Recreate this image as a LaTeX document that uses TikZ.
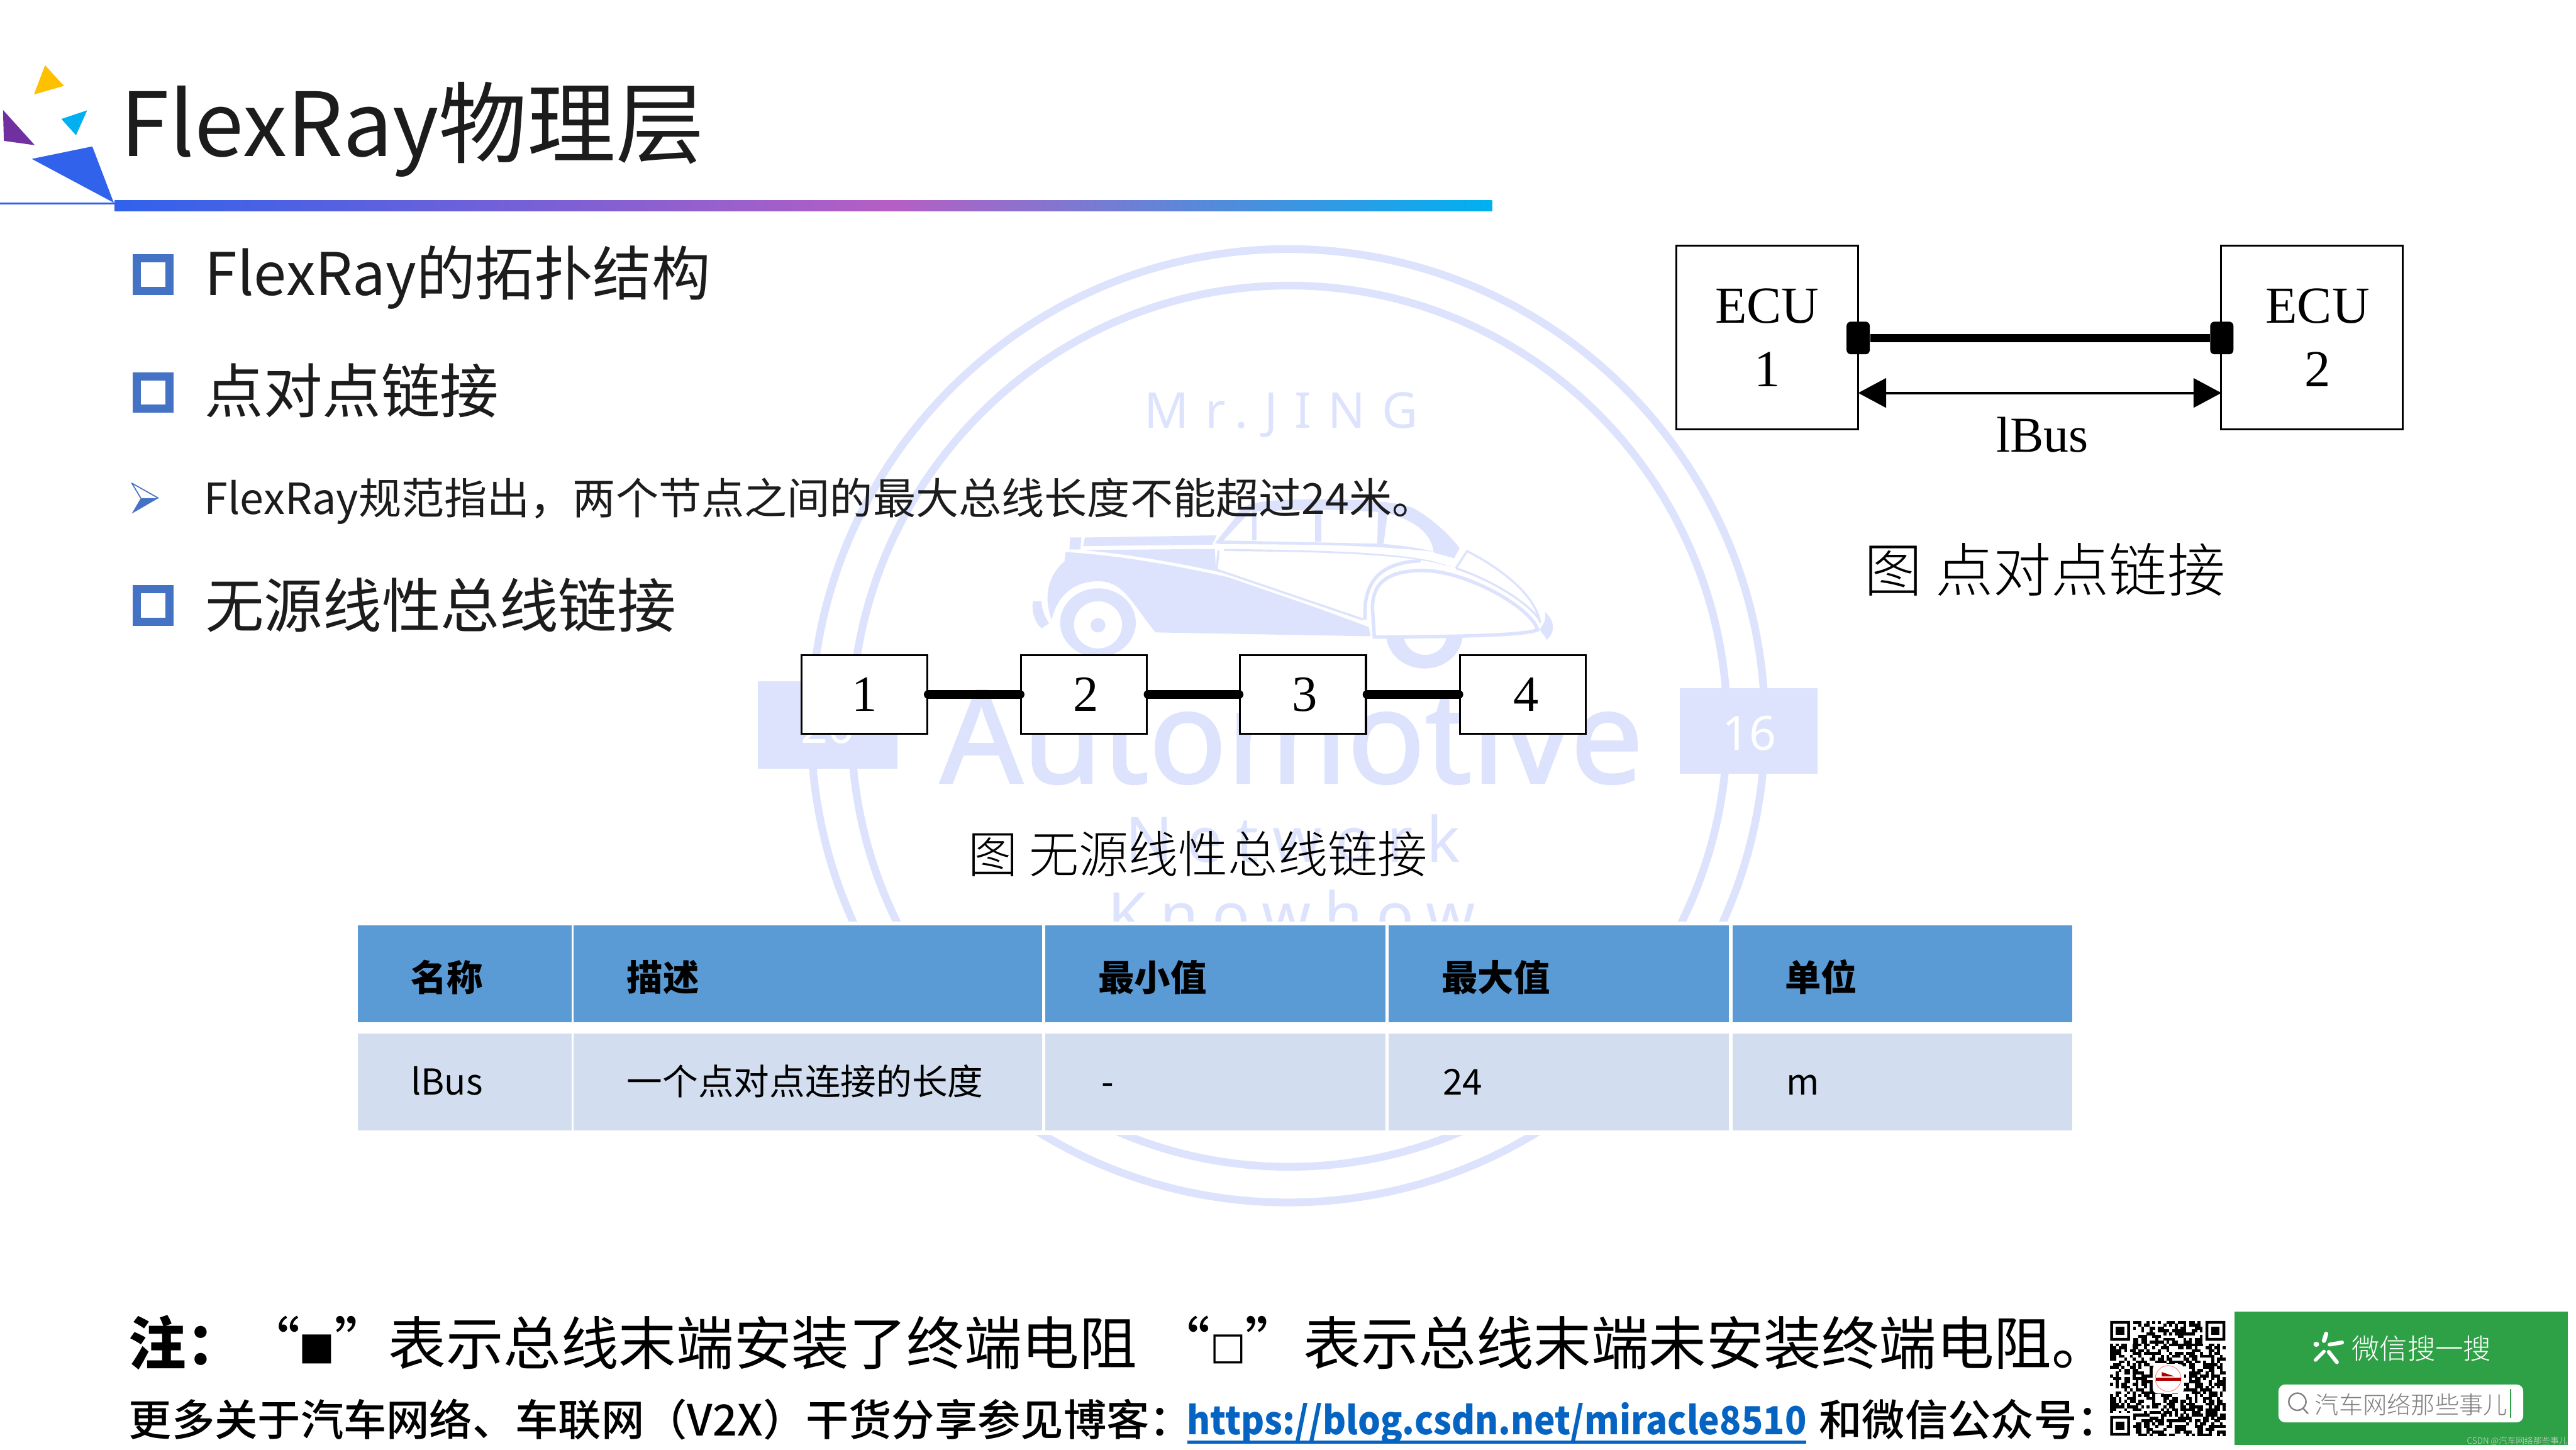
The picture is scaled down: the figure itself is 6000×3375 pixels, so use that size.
\documentclass[tikz,border=0pt]{standalone}
\usepackage{fontspec}
\usetikzlibrary{arrows.meta,calc}
\setmainfont{Noto Sans CJK SC}
\newfontfamily\cjk{Noto Sans CJK SC}
\newfontfamily\cjklight{Noto Sans CJK SC Light}
\newfontfamily\cjkmed{Noto Sans CJK SC Medium}
\newfontfamily\latinwm{Noto Sans}
\newfontfamily\latinwmb[FakeBold=1.6]{Noto Sans}
\newfontfamily\tms{Liberation Serif}
\newcommand\fs[1]{\fontsize{\fpeval{#1*0.28453}pt}{\fpeval{#1*1.2*0.28453}pt}\selectfont}
\definecolor{wm}{HTML}{DDE3FD}
\definecolor{ink}{HTML}{1C1C1C}
\definecolor{bulletblue}{HTML}{4472C4}
\definecolor{headcol}{HTML}{5B9BD5}
\definecolor{rowcol}{HTML}{D2DEEF}
\definecolor{linkcol}{HTML}{0563C1}
\definecolor{wxgreen}{HTML}{2EA146}
\definecolor{barblue}{HTML}{3062EC}
\definecolor{barpink}{HTML}{B55FC3}
\definecolor{barcyan}{HTML}{00B0F0}
\tikzset{
 txt/.style={inner sep=0pt,outer sep=0pt,anchor=base west},
 ctr/.style={inner sep=0pt,outer sep=0pt,anchor=center},
 heading/.style={txt,text=ink,font=\cjk\fs{137}},
 th/.style={txt,text=black,font=\cjk\bfseries\fs{84}},
 td/.style={txt,text=black,font=\cjk\fs{83}},
 caption/.style={ctr,text=black,font=\cjklight\fs{#1}},
 note/.style={txt,text=black,font=\cjk\fs{134}},
 more/.style={txt,text=black,font=\cjkmed\fs{100}},
 square/.style={draw=bulletblue,line width=1.9mm,fill=none},
 linkbox/.style={draw=black,fill=white,line width=.45mm,minimum width=29.3mm,minimum height=18.4mm,inner sep=0pt,font=\tms\fs{118}},
 ecubox/.style={draw=black,fill=white,line width=.5mm,minimum width=42.3mm,minimum height=42.7mm,inner sep=0pt,align=center,font=\tms\fs{121}},
 term/.style={fill=black,rounded corners=1mm,minimum width=5.4mm,minimum height=7.6mm,inner sep=0pt},
 wmtext/.style={txt,text=wm},
 bus/.style={line width=2mm,line cap=round},
}
\begin{document}
\begin{tikzpicture}[x=0.01cm,y=-0.01cm]
\useasboundingbox (0,0) rectangle (6000,3375);
\fill[white] (0,0) rectangle (6000,3375);

% ---- watermark
\draw[wm,line width=1.8mm] (3000,1690) ellipse [x radius=1111,y radius=1110];
\draw[wm,line width=1.8mm] (3003,1691) ellipse [x radius=1020,y radius=1026];
\fill[wm] (1765,1587) rectangle (2091,1790);
\fill[wm] (3912,1603) rectangle (4234,1802);
\node[txt,text=white,font=\latinwm\fs{110}] (w20) at (1865,1730) {20};
\node[txt,text=white,font=\latinwm\fs{110}] (w16) at (4012,1747) {16};
\node[wmtext,font=\latinwm\fs{115}\addfontfeature{LetterSpace=33.5}] (wmr) at (2665,997) {Mr.JING};
\node[wmtext,font=\latinwmb\fs{300}] (wauto) at (2190,1823) {Automotive};
\node[wmtext,font=\latinwm\fs{146}\addfontfeature{LetterSpace=22}] (wnet) at (2621,2007) {Network};
\node[wmtext,font=\latinwm\fs{146}\addfontfeature{LetterSpace=21}] (wknow) at (2581,2183) {Knowhow};

% ---- car
\begin{scope}[shift={(2350,1150)},xscale=.864,yscale=.3333]
 % rear wheel
 \fill[wm,even odd rule] (240,900) ellipse [x radius=102,y radius=240]
   (240,915) ellipse [x radius=65,y radius=165];
 \fill[wm] (240,918) ellipse [x radius=20,y radius=50];
 % front wheel
 \begin{scope}
  \clip (1000,1005) rectangle (1250,1300);
  \fill[wm,even odd rule] (1120,980) ellipse [x radius=103,y radius=240]
    (1122,980) ellipse [x radius=58,y radius=145];
 \end{scope}
 % rear bumper
 \fill[wm] (65,750) -- (88,750) .. controls (88,800) and (95,850) .. (108,905) -- (88,940) .. controls (70,900) and (60,820) .. (65,750) -- cycle;
 % trunk
 \fill[wm] (165,305) -- (195,305) -- (193,388) -- (163,390) -- cycle;
 \fill[wm] (205,305) -- (560,290) -- (548,355) -- (200,365) -- cycle;
 % body
 \fill[wm] (152,408) -- (150,470) .. controls (110,560) and (90,700) .. (115,880)
   .. controls (130,720) and (170,612) .. (240,610)
   .. controls (310,612) and (330,760) .. (395,968)
   -- (975,995) -- (970,930) -- (558,535) -- (555,385) -- (215,392) -- cycle;
 \draw[white,line width=.7mm] (165,398) .. controls (300,420) and (450,490) .. (590,570) -- (965,905);
 % roof and pillars
 \fill[wm] (612,160) .. controls (625,80) and (650,42) .. (800,38)
   .. controls (950,35) and (1050,55) .. (1090,100)
   .. controls (1140,170) and (1190,290) .. (1215,380)
   -- (1200,450) -- (1145,410)
   .. controls (1140,300) and (1110,210) .. (1040,150)
   .. controls (1000,105) and (800,105) .. (650,125)
   -- (580,320) -- (565,345) -- (555,345) -- cycle;
 \fill[wm] (655,120) rectangle (668,325);
 \fill[wm] (825,110) rectangle (842,335);
 \fill[wm] (995,110) -- (1022,110) -- (1010,350) -- (993,350) -- cycle;
 % sill bands
 \fill[wm] (562,325) -- (1000,348) .. controls (1060,360) and (1110,380) .. (1145,405)
   .. controls (1100,390) and (1000,365) .. (800,355) -- (562,350) -- cycle;
 \fill[wm] (580,385) .. controls (800,392) and (1100,400) .. (1190,510)
   .. controls (1100,430) and (900,405) .. (580,400) -- cycle;
 % door edge
 \draw[wm,line width=.5mm] (565,395) -- (560,530) -- (955,878);
 % fender outlines
 \draw[wm,line width=.8mm] (960,878) .. controls (955,640) and (990,480) .. (1110,468);
 \draw[wm,line width=.8mm] (985,1000) -- (980,800) .. controls (980,620) and (1020,535) .. (1120,535)
   .. controls (1240,545) and (1410,800) .. (1425,950)
   .. controls (1390,990) and (1200,998) .. (985,1000) -- cycle;
 \draw[wm,line width=.5mm] (1205,520) .. controls (1300,600) and (1400,760) .. (1430,880);
 \draw[wm,line width=.5mm] (1205,520) -- (1235,400) .. controls (1340,540) and (1420,720) .. (1432,900);
 % front bumper
 \fill[wm] (1445,825) .. controls (1470,880) and (1475,960) .. (1450,1020)
   .. controls (1445,990) and (1430,960) .. (1432,940) .. controls (1445,905) and (1448,860) .. (1445,825) -- cycle;
\end{scope}

% ---- title band
\fill[fill={rgb,255:red,255;green,192;blue,0}] (105,152) -- (149,200) -- (79,220) -- cycle;
\fill[fill=barcyan] (203,257) -- (143,277) -- (177,315) -- cycle;
\fill[fill={rgb,255:red,112;green,48;blue,160}] (7,256) -- (9,328) -- (81,338) -- cycle;
\fill[fill=barblue] (215,341) -- (74,370) -- (265,472) -- cycle;
\fill[barblue] (0,471) rectangle (267,476);
\shade[left color=barblue,right color=barpink] (267,466) rectangle (2080,492);
\shade[left color=barpink,right color=barcyan] (2079,466) rectangle (3475,492);
\node[txt,text=ink,font=\cjk\fs{206}] (title) at (281,364) {FlexRay物理层};

% ---- bullets and headings
\draw[square] (319,601) rectangle (395,677);
\node[heading] (h1) at (477,687) {FlexRay的拓扑结构};
\draw[square] (319,876) rectangle (395,951);
\node[heading] (h2) at (477,962) {点对点链接};
\draw[square] (319,1372) rectangle (395,1448);
\node[heading] (h3) at (478,1461) {无源线性总线链接};
\fill[bulletblue] (307,1196) -- (328,1160) -- (369,1160) -- cycle;
\draw[bulletblue,line width=.25mm,line join=round] (369,1160) -- (307,1125) -- (328,1160);
\node[txt,text=ink,font=\cjk\fs{99.8}] (sub) at (476,1198) {FlexRay规范指出，两个节点之间的最大总线长度不能超过24米。};

% ---- ECU link
\node[ecubox] (e1) at (4116,786) {ECU\\[.5pt]1};
\node[ecubox] (e2) at (5385,786) {\hspace*{2.6mm}ECU\\[.5pt]\hspace*{2.6mm}2};
\node[term] (t1) at (4328,787) {};
\node[term] (t2) at (5175,787) {};
\draw[line width=1.9mm] (t1) -- (t2);
\coordinate (a1) at (4328,915);
\coordinate (a2) at (5174,915);
\draw[{Triangle[length=6.5mm,width=6.8mm]}-{Triangle[length=6.5mm,width=6.8mm]},line width=.6mm] (a1) -- (a2);
\node[ctr,font=\tms\fs{117},anchor=base] (lbus) at (4757,1052) {lBus};
\node[caption=135] (cap1) at (4763,1326) {图 点对点链接};

% ---- bus nodes
\node[linkbox] (n1) at (2013,1617) {1};
\node[linkbox] (n2) at (2525,1617) {\hspace*{.8mm}2};
\node[linkbox] (n3) at (3035,1617) {\hspace*{.8mm}3};
\node[linkbox] (n4) at (3547,1617) {\hspace*{1.4mm}4};
\draw[bus] (n1) -- (n2);
\draw[bus] (n2) -- (n3);
\draw[bus] (n3) -- (n4);
\node[caption=116] (cap2) at (2790,1988) {图 无源线性总线链接};

% ---- table
\fill[white] (700,2146) rectangle (4950,2643);
\fill[headcol] (834,2155) rectangle (1331,2381);
\fill[headcol] (1336,2155) rectangle (2427,2381);
\fill[headcol] (2434,2155) rectangle (3227,2381);
\fill[headcol] (3234,2155) rectangle (4027,2381);
\fill[headcol] (4035,2155) rectangle (4827,2381);
\fill[rowcol] (834,2407) rectangle (1331,2633);
\fill[rowcol] (1336,2407) rectangle (2427,2633);
\fill[rowcol] (2434,2407) rectangle (3227,2633);
\fill[rowcol] (3234,2407) rectangle (4027,2633);
\fill[rowcol] (4035,2407) rectangle (4827,2633);
\node[th] (c1) at (957,2308) {名称};
\node[th] (c2) at (1460,2308) {描述};
\node[th] (c3) at (2558,2308) {最小值};
\node[th] (c4) at (3358,2308) {最大值};
\node[th] (c5) at (4158,2308) {单位};
\node[td] (d1) at (957,2549) {lBus};
\node[td] (d2) at (1460,2549) {一个点对点连接的长度};
\node[td] (d3) at (2565,2549) {-};
\node[td] (d4) at (3361,2549) {24};
\node[td] (d5) at (4161,2549) {m};

% ---- notes
\node[note,font=\cjk\bfseries\fs{134}] (n0) at (300,3178) {注：};
\node[note,anchor=base east] (q1) at (700,3178) {“};
\node[ctr,text=black,font={\fontspec{DejaVu Sans}\fs{88}}] (qf) at (738,3142) {■};
\node[note] (q2) at (778,3178) {”};
\node[note] (no1) at (905,3178) {表示总线末端安装了终端电阻};
\node[note,anchor=base east] (q3) at (2820,3178) {“};
\node[ctr,text=black,font={\fontspec{DejaVu Sans}\fs{88}}] (qe) at (2861,3142) {□};
\node[note] (q4) at (2900,3178) {”};
\node[note] (no2) at (3036,3178) {表示总线末端未安装终端电阻。};
\node[more] (m1) at (300,3344) {更多关于汽车网络、车联网（V2X）干货分享参见博客：};
\node[more,text=linkcol,font=\cjk\bfseries\fs{90}] (url) at (2765,3340) {\scalebox{.92}[1]{https://blog.csdn.net/miracle8510}};
\draw[linkcol,line width=.65mm] ($(url.base west)+(0,18)$) -- ($(url.base east)+(0,18)$);
\node[more] (m2) at (4237,3344) {和微信公众号：};

% ---- QR code
\pgfmathsetseed{8510}
\foreach \i in {0,...,40}{\foreach \j in {0,...,40}{
  \pgfmathsetmacro\r{rnd}
  \ifdim\r pt<0.5pt
   \fill[black] ({4915+\i*6.55},{3076+\j*6.55}) rectangle ++(6.9,6.9);
  \fi}}
\foreach \x/\y in {4915/3076,5137/3076,4915/3297}{
  \fill[white] (\x-7,\y-7) rectangle ++(60,60);
  \fill[black,even odd rule] (\x,\y) rectangle ++(46,46) (\x+6.5,\y+6.5) rectangle ++(33,33);
  \fill[black] (\x+13,\y+13) rectangle ++(20,20);
}
\fill[white,rounded corners=1.2mm] (5014,3176) rectangle (5087,3245);
\draw[red!45!white,line width=.15mm] (5050,3210) circle [radius=30];
\fill[red!70!black] (5022,3208) rectangle (5080,3216);
\fill[red!70!black] (5035,3195) -- (5065,3205) -- (5035,3205) -- cycle;

% ---- search panel
\fill[wxgreen] (5204,3054) rectangle (5981,3365);
\draw[white,line width=1mm,line cap=round] (5418,3106) -- (5413,3122);
\draw[white,line width=.9mm,line cap=round] (5426,3131) -- (5455,3126);
\draw[white,line width=1.1mm,line cap=round] (5394,3130) -- (5396,3130);
\draw[white,line width=.8mm,line cap=round] (5393,3167) -- (5413,3147);
\draw[white,line width=.9mm,line cap=round] (5424,3148) -- (5443,3172);
\node[ctr,text=white,font=\cjklight\fs{65}] (wx1) at (5640,3140) {微信搜一搜};
\fill[white,rounded corners=1.5mm] (5307,3224) rectangle (5877,3312);
\draw[gray,line width=.35mm] (5351,3264) circle [radius=20];
\draw[gray,line width=.35mm] (5365,3280) -- (5376,3292);
\node[ctr,text=gray,font=\cjklight\fs{56}] (wx2) at (5616,3270) {汽车网络那些事儿};
\draw[wxgreen,line width=.35mm] (5848,3235) -- (5848,3301);
\node[ctr,text=white!85!black,font=\cjklight\fs{20},anchor=east] (csdn) at (5980,3356) {CSDN @汽车网络那些事儿};
\end{tikzpicture}
\end{document}
